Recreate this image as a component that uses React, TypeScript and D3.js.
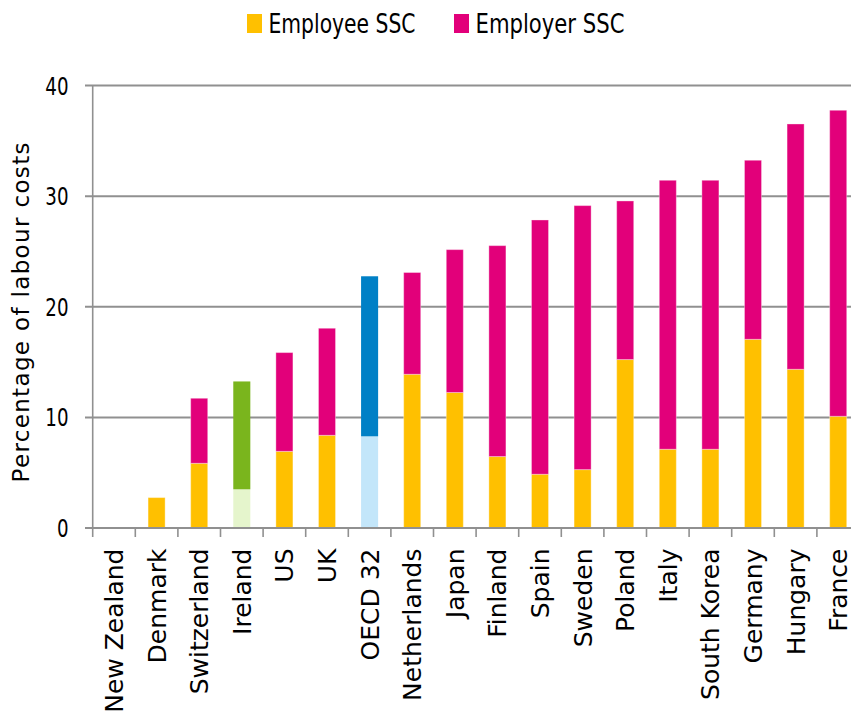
import React from "react";
import * as d3 from "d3";

const categories = [
  "New Zealand", "Denmark", "Switzerland", "Ireland", "US", "UK", "OECD 32",
  "Netherlands", "Japan", "Finland", "Spain", "Sweden", "Poland", "Italy",
  "South Korea", "Germany", "Hungary", "France",
];
const employeeSSC = [0, 2.75, 5.85, 3.5, 6.93, 8.38, 8.29, 13.9, 12.25, 6.46, 4.86, 5.28, 15.23, 7.12, 7.12, 17.06, 14.35, 10.1];
const employerSSC = [0, 0, 5.88, 9.75, 8.93, 9.68, 14.47, 9.2, 12.92, 19.07, 22.99, 23.87, 14.34, 24.32, 24.32, 16.19, 22.18, 27.67];
const yTicks = [0, 10, 20, 30, 40];
const seriesNames = ["Employee SSC", "Employer SSC"];

const COLORS = {
  employee: "#FFC000",
  employer: "#E2007A",
  highlight: {
    Ireland: ["#E5F5CC", "#7AB51D"],
    "OECD 32": ["#C3E6FA", "#0080C6"],
  } as Record<string, string[]>,
  grid: "#909090",
};

export default function App() {
  const width = 851;
  const height = 720;
  const x0 = 92.7;
  const step = 42.6;
  const x = d3
    .scaleBand<string>()
    .domain(categories)
    .range([x0, x0 + step * categories.length])
    .paddingInner(0.6)
    .paddingOuter(0.3);
  const y = d3.scaleLinear().domain([0, 40]).range([528, 85.6]);
  const bw = x.bandwidth();

  const narrow = "'Liberation Sans Narrow', 'DejaVu Sans Condensed', sans-serif";
  const sans = "'DejaVu Sans', sans-serif";

  return (
    <svg
      width={width}
      height={height}
      style={{ position: "absolute", left: 0, top: 0, background: "#fff" }}
    >
      {/* legend */}
      {seriesNames.map((s, i) => {
        const lx = i === 0 ? 247 : 454;
        return (
          <g key={s}>
            <rect x={lx} y={14} width={15} height={19} fill={i === 0 ? COLORS.employee : COLORS.employer} />
            <text
              x={lx + 21.5}
              y={33.3}
              fontFamily={narrow}
              fontSize={26}
              fill="#000"
              textLength={i === 0 ? 147 : 149}
              lengthAdjust="spacingAndGlyphs"
            >
              {s}
            </text>
          </g>
        );
      })}

      {/* gridlines */}
      {yTicks.map((t) => (
        <line key={t} x1={85} x2={width} y1={y(t)} y2={y(t)} stroke={COLORS.grid} strokeWidth={2} />
      ))}
      {yTicks.map((t) => (
        <text
          key={"l" + t}
          x={68.5}
          y={y(t) + 9}
          textAnchor="end"
          fontFamily={narrow}
          fontSize={25}
          fill="#000"
          textLength={String(t).length * 11.6}
          lengthAdjust="spacingAndGlyphs"
        >
          {t}
        </text>
      ))}

      {/* bars */}
      {categories.map((c, i) => {
        const hl = COLORS.highlight[c];
        const e = employeeSSC[i];
        const r = employerSSC[i];
        const bx = x(c)!;
        const edge = hl ? "none" : "rgba(255,255,255,0.35)";
        return (
          <g key={c}>
            {e > 0 && (
              <rect x={bx} y={y(e)} width={bw} height={y(0) - y(e)} fill={hl ? hl[0] : COLORS.employee} stroke={edge} strokeWidth={1} />
            )}
            {r > 0 && (
              <rect x={bx} y={y(e + r)} width={bw} height={y(e) - y(e + r)} fill={hl ? hl[1] : COLORS.employer} stroke={edge} strokeWidth={1} />
            )}
          </g>
        );
      })}

      {/* axes */}
      <line x1={85} x2={width} y1={y(0)} y2={y(0)} stroke={COLORS.grid} strokeWidth={2} />
      <line x1={x0} x2={x0} y1={y(40)} y2={y(0)} stroke={COLORS.grid} strokeWidth={1.6} />
      {categories.map((c) => {
        const bx = x(c)! + bw / 2 - x.step() / 2;
        return <line key={"t" + c} x1={bx} x2={bx} y1={y(0)} y2={y(0) + 9} stroke={COLORS.grid} strokeWidth={1.6} />;
      })}
      {categories.map((c) => {
        const cx = x(c)! + bw / 2;
        return (
          <text
            key={"x" + c}
            transform={`translate(${cx},548.5) rotate(-90)`}
            textAnchor="end"
            dy="0.36em"
            fontFamily={sans}
            fontSize={25}
            fill="#000"
          >
            {c}
          </text>
        );
      })}

      {/* y title */}
      <text
        transform="translate(29.3,312.5) rotate(-90)"
        textAnchor="middle"
        fontFamily={sans}
        fontSize={23}
        fill="#000"
        textLength={340}
        lengthAdjust="spacing"
      >
        Percentage of labour costs
      </text>
    </svg>
  );
}
